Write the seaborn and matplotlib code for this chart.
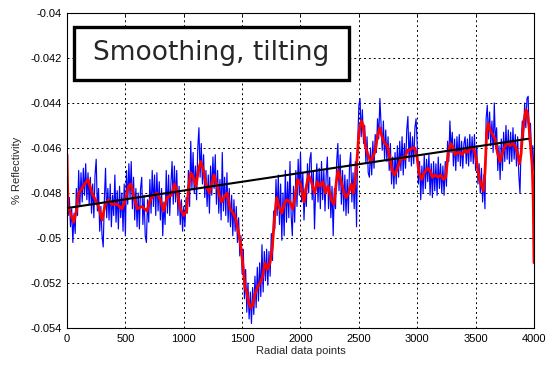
import numpy as np
import pandas as pd
import matplotlib
matplotlib.use("Agg")
import matplotlib.pyplot as plt
from matplotlib.patches import Rectangle
import seaborn as sns

# Raw radial profile, sampled every 10 points (0 .. 4000)
raw_x = list(range(0, 4001, 10))
raw_y = [
    -0.0484, -0.0490, -0.0482, -0.0495, -0.0487, -0.0502, -0.0489, -0.0498, -0.0478, -0.0490,
    -0.0470, -0.0486, -0.0471, -0.0484, -0.0469, -0.0481, -0.0467, -0.0483, -0.0471, -0.0485,
    -0.0473, -0.0489, -0.0476, -0.0491, -0.0472, -0.0465, -0.0488, -0.0478, -0.0497, -0.0486,
    -0.0499, -0.0504, -0.0483, -0.0469, -0.0491, -0.0478, -0.0492, -0.0476, -0.0495, -0.0481,
    -0.0490, -0.0472, -0.0493, -0.0479, -0.0496, -0.0477, -0.0491, -0.0480, -0.0497, -0.0476,
    -0.0499, -0.0470, -0.0485, -0.0467, -0.0482, -0.0466, -0.0487, -0.0473, -0.0492, -0.0478,
    -0.0495, -0.0480, -0.0496, -0.0478, -0.0473, -0.0494, -0.0481, -0.0499, -0.0502, -0.0483,
    -0.0493, -0.0474, -0.0489, -0.0470, -0.0486, -0.0472, -0.0490, -0.0471, -0.0488, -0.0475,
    -0.0492, -0.0478, -0.0499, -0.0484, -0.0494, -0.0470, -0.0489, -0.0472, -0.0490, -0.0476,
    -0.0466, -0.0485, -0.0468, -0.0484, -0.0470, -0.0490, -0.0477, -0.0494, -0.0483, -0.0497,
    -0.0486, -0.0495, -0.0482, -0.0489, -0.0470, -0.0486, -0.0457, -0.0478, -0.0462, -0.0480,
    -0.0468, -0.0483, -0.0460, -0.0451, -0.0473, -0.0458, -0.0476, -0.0463, -0.0482, -0.0470,
    -0.0486, -0.0472, -0.0489, -0.0468, -0.0481, -0.0464, -0.0478, -0.0463, -0.0485, -0.0470,
    -0.0489, -0.0474, -0.0492, -0.0462, -0.0488, -0.0473, -0.0490, -0.0471, -0.0493, -0.0478,
    -0.0495, -0.0481, -0.0499, -0.0483, -0.0497, -0.0486, -0.0502, -0.0491, -0.0508, -0.0499,
    -0.0516, -0.0505, -0.0527, -0.0514, -0.0533, -0.0520, -0.0536, -0.0524, -0.0538, -0.0522,
    -0.0534, -0.0517, -0.0531, -0.0513, -0.0528, -0.0511, -0.0526, -0.0503, -0.0524, -0.0506,
    -0.0519, -0.0505, -0.0521, -0.0506, -0.0517, -0.0498, -0.0510, -0.0488, -0.0496, -0.0474,
    -0.0490, -0.0472, -0.0494, -0.0476, -0.0501, -0.0480, -0.0499, -0.0470, -0.0493, -0.0475,
    -0.0491, -0.0466, -0.0490, -0.0499, -0.0477, -0.0493, -0.0470, -0.0486, -0.0465, -0.0481,
    -0.0462, -0.0484, -0.0471, -0.0492, -0.0478, -0.0486, -0.0467, -0.0480, -0.0465, -0.0462,
    -0.0483, -0.0470, -0.0496, -0.0478, -0.0467, -0.0484, -0.0469, -0.0487, -0.0466, -0.0483,
    -0.0470, -0.0488, -0.0472, -0.0464, -0.0487, -0.0473, -0.0491, -0.0477, -0.0499, -0.0478,
    -0.0487, -0.0466, -0.0458, -0.0479, -0.0463, -0.0485, -0.0470, -0.0488, -0.0472, -0.0490,
    -0.0474, -0.0489, -0.0468, -0.0462, -0.0484, -0.0471, -0.0487, -0.0466, -0.0495, -0.0458,
    -0.0441, -0.0438, -0.0455, -0.0443, -0.0458, -0.0450, -0.0467, -0.0455, -0.0471, -0.0473,
    -0.0460, -0.0472, -0.0457, -0.0469, -0.0454, -0.0462, -0.0447, -0.0456, -0.0438, -0.0449,
    -0.0461, -0.0448, -0.0465, -0.0452, -0.0466, -0.0455, -0.0470, -0.0458, -0.0476, -0.0464,
    -0.0478, -0.0462, -0.0476, -0.0459, -0.0473, -0.0457, -0.0470, -0.0455, -0.0472, -0.0458,
    -0.0469, -0.0452, -0.0446, -0.0466, -0.0453, -0.0468, -0.0455, -0.0467, -0.0451, -0.0447,
    -0.0459, -0.0476, -0.0466, -0.0483, -0.0468, -0.0480, -0.0463, -0.0478, -0.0465, -0.0475,
    -0.0463, -0.0481, -0.0467, -0.0482, -0.0466, -0.0479, -0.0467, -0.0481, -0.0464, -0.0478,
    -0.0467, -0.0480, -0.0468, -0.0481, -0.0466, -0.0477, -0.0457, -0.0466, -0.0448, -0.0462,
    -0.0453, -0.0468, -0.0456, -0.0470, -0.0455, -0.0466, -0.0454, -0.0468, -0.0457, -0.0469,
    -0.0458, -0.0455, -0.0467, -0.0456, -0.0468, -0.0454, -0.0466, -0.0455, -0.0467, -0.0454,
    -0.0470, -0.0459, -0.0476, -0.0467, -0.0480, -0.0469, -0.0484, -0.0472, -0.0487, -0.0447,
    -0.0441, -0.0456, -0.0444, -0.0459, -0.0448, -0.0462, -0.0440, -0.0458, -0.0451, -0.0470,
    -0.0459, -0.0474, -0.0456, -0.0470, -0.0453, -0.0466, -0.0450, -0.0465, -0.0452, -0.0467,
    -0.0453, -0.0466, -0.0451, -0.0465, -0.0454, -0.0468, -0.0455, -0.0472, -0.0480, -0.0458,
    -0.0448, -0.0456, -0.0440, -0.0451, -0.0438, -0.0437, -0.0457, -0.0449, -0.0465, -0.0459,
    -0.0470,
]

# Smoothed profile
smooth_x = [
    0, 8, 30, 57, 80, 100, 128, 150, 180, 214, 243, 270, 300, 328, 357, 385, 428, 471, 500,
    528, 548, 571, 600, 642, 685, 714, 742, 771, 800, 828, 857, 894, 922, 942, 971, 1000,
    1025, 1040, 1060, 1082, 1105, 1125, 1145, 1168, 1190, 1219, 1239, 1259, 1282, 1305,
    1325, 1353, 1373, 1396, 1425, 1448, 1467, 1482, 1496, 1510, 1525, 1539, 1553, 1573,
    1590, 1610, 1630, 1653, 1676, 1696, 1716, 1739, 1759, 1776, 1796, 1816, 1839, 1861,
    1882, 1910, 1933, 1953, 1975, 2000, 2030, 2050, 2070, 2093, 2121, 2144, 2164, 2193,
    2213, 2236, 2264, 2287, 2307, 2321, 2344, 2373, 2392, 2413, 2435, 2453, 2470, 2487,
    2501, 2521, 2538, 2555, 2578, 2601, 2621, 2641, 2658, 2678, 2698, 2721, 2744, 2764,
    2784, 2807, 2830, 2850, 2870, 2893, 2915, 2935, 2955, 2980, 2998, 3015, 3038, 3060,
    3089, 3110, 3129, 3152, 3180, 3203, 3223, 3244, 3266, 3289, 3309, 3323, 3346, 3366,
    3386, 3409, 3432, 3452, 3472, 3489, 3509, 3529, 3546, 3566, 3580, 3595, 3609, 3623,
    3646, 3666, 3686, 3709, 3732, 3752, 3772, 3795, 3818, 3838, 3858, 3875, 3889, 3903,
    3917, 3932, 3946, 3960, 3975, 3985, 3994, 4000,
]
smooth_y = [
    -0.0463, -0.0486, -0.0489, -0.0493, -0.0488, -0.0480, -0.0478, -0.0476, -0.0474, -0.0480,
    -0.0483, -0.0486, -0.0492, -0.0485, -0.0483, -0.0485, -0.0485, -0.0487, -0.0483, -0.0477,
    -0.0476, -0.0481, -0.0487, -0.0486, -0.0488, -0.0483, -0.0481, -0.0480, -0.0483, -0.0488,
    -0.0482, -0.0481, -0.0476, -0.0479, -0.0487, -0.0490, -0.0488, -0.0478, -0.0471, -0.0473,
    -0.0477, -0.0470, -0.0466, -0.0470, -0.0476, -0.0480, -0.0476, -0.0472, -0.0476, -0.0481,
    -0.0484, -0.0481, -0.0480, -0.0487, -0.0489, -0.0492, -0.0497, -0.0501, -0.0507, -0.0514,
    -0.0522, -0.0524, -0.0528, -0.0531, -0.0530, -0.0525, -0.0522, -0.0520, -0.0517, -0.0511,
    -0.0514, -0.0511, -0.0504, -0.0492, -0.0482, -0.0486, -0.0489, -0.0485, -0.0483, -0.0484,
    -0.0487, -0.0482, -0.0474, -0.0476, -0.0484, -0.0477, -0.0472, -0.0475, -0.0480, -0.0475,
    -0.0477, -0.0475, -0.0480, -0.0477, -0.0483, -0.0485, -0.0475, -0.0470, -0.0474, -0.0480,
    -0.0482, -0.0480, -0.0476, -0.0480, -0.0474, -0.0463, -0.0453, -0.0448, -0.0450, -0.0459,
    -0.0463, -0.0466, -0.0464, -0.0461, -0.0455, -0.0451, -0.0455, -0.0458, -0.0459, -0.0464,
    -0.0470, -0.0472, -0.0469, -0.0466, -0.0464, -0.0465, -0.0461, -0.0461, -0.0460, -0.0460,
    -0.0464, -0.0471, -0.0474, -0.0471, -0.0469, -0.0470, -0.0473, -0.0472, -0.0473, -0.0472,
    -0.0474, -0.0473, -0.0462, -0.0458, -0.0460, -0.0463, -0.0462, -0.0462, -0.0463, -0.0461,
    -0.0462, -0.0460, -0.0460, -0.0461, -0.0466, -0.0473, -0.0476, -0.0479, -0.0471, -0.0453,
    -0.0449, -0.0452, -0.0454, -0.0456, -0.0462, -0.0466, -0.0462, -0.0459, -0.0458, -0.0459,
    -0.0458, -0.0459, -0.0462, -0.0467, -0.0463, -0.0453, -0.0447, -0.0443, -0.0445, -0.0452,
    -0.0462, -0.0468, -0.0484, -0.0511,
]

# Linear trend (tilt)
trend_x = [0, 3950]
trend_y = [-0.04867, -0.04559]

x_ticks = [0, 500, 1000, 1500, 2000, 2500, 3000, 3500, 4000]
y_ticks = [-0.054, -0.052, -0.05, -0.048, -0.046, -0.044, -0.042, -0.04]
y_tick_labels = ["-0.054", "-0.052", "-0.05", "-0.048", "-0.046", "-0.044", "-0.042", "-0.04"]

sns.set_style("white")
plt.rcParams["font.family"] = ["Liberation Sans", "DejaVu Sans"]

fig = plt.figure(figsize=(5.47, 3.65), dpi=100)
ax = fig.add_axes([0.1225, 0.1014, 0.8537, 0.863])

raw = pd.DataFrame({"x": raw_x, "y": raw_y})
smooth = pd.DataFrame({"x": smooth_x, "y": smooth_y})
trend = pd.DataFrame({"x": trend_x, "y": trend_y})

sns.lineplot(data=raw, x="x", y="y", ax=ax, color="#0000ff", linewidth=0.85,
             estimator=None, sort=False)
sns.lineplot(data=smooth, x="x", y="y", ax=ax, color="#ff0000", linewidth=2.0,
             estimator=None, sort=False)
sns.lineplot(data=trend, x="x", y="y", ax=ax, color="black", linewidth=1.5,
             estimator=None, sort=False)

ax.set_xlim(0, 4000)
ax.set_ylim(-0.054, -0.04)
ax.set_xticks(x_ticks)
ax.set_xticklabels([str(t) for t in x_ticks])
ax.set_yticks(y_ticks)
ax.set_yticklabels(y_tick_labels)
ax.tick_params(axis="both", labelsize=8, colors="black", direction="in",
               length=3, width=0.6, top=True, right=True, pad=4)
ax.grid(True, color="black", linestyle=(0, (2, 3)), linewidth=0.7)
ax.set_axisbelow(True)
for s in ax.spines.values():
    s.set_color("black")
    s.set_linewidth(0.8)

ax.set_xlabel("Radial data points", fontsize=8, labelpad=2)
ax.set_ylabel("% Reflectivity", fontsize=8, labelpad=6)

# Title box inside the axes
ax.add_patch(Rectangle((0.015, 0.787), 0.589, 0.169, transform=ax.transAxes,
                       facecolor="white", edgecolor="black", linewidth=2.4, zorder=5))
ax.text(0.3095, 0.8715, "Smoothing, tilting", transform=ax.transAxes,
        ha="center", va="center", fontsize=19, family="DejaVu Sans", zorder=6)

fig.savefig("out.png", dpi=100)
